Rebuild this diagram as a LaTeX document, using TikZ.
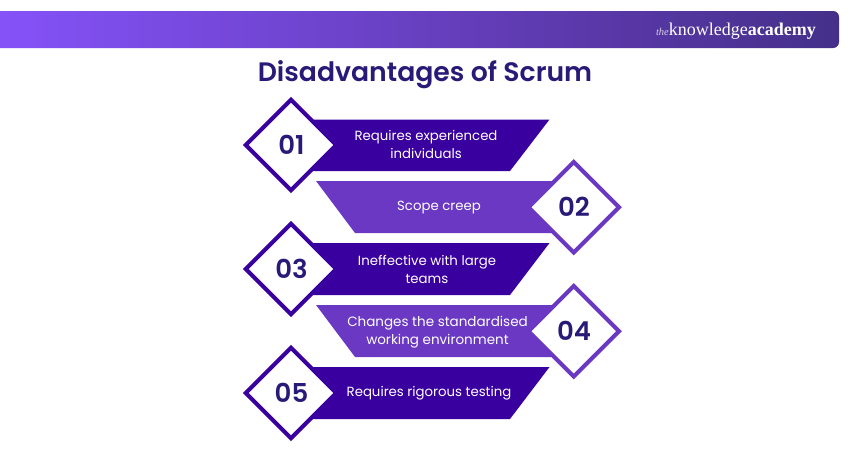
\documentclass[tikz,border=0pt]{standalone}
\usepackage{fontspec}
\setmainfont{Poppins}
\newfontfamily\popsemi{Poppins SemiBold}
\newfontfamily\logofont{Liberation Serif}
\definecolor{barA}{HTML}{3A009F}
\definecolor{barB}{HTML}{6A38C2}
\definecolor{inkc}{HTML}{2A1A78}
\definecolor{bannerL}{HTML}{8552F8}
\definecolor{bannerM}{HTML}{5A38A8}
\definecolor{bannerR}{HTML}{44308A}
\newcommand{\popfont}{\fontsize{13.3}{18}\selectfont}
\newcommand{\numfont}{\popsemi\fontsize{26}{30}\selectfont}
\tikzset{
  x=1pt,y=-1pt,
  bartext/.style={text=white,font=\popfont,align=center,inner sep=0pt},
  numtext/.style={text=inkc,font=\numfont,inner sep=0pt},
  diam/.style={fill=white,line width=4.2pt,line join=miter},
}
\begin{document}
\begin{tikzpicture}
\useasboundingbox (0,0) rectangle (850,450);
\fill[white] (0,0) rectangle (850,450);
% banner
\begin{scope}
\clip (0,11) -- (833,11) arc[start angle=90,end angle=0,x radius=6,y radius=-6] -- (839,42) arc[start angle=0,end angle=-90,x radius=6,y radius=-6] -- (0,48) -- cycle;
\shade[left color=bannerL,right color=bannerM] (0,11) rectangle (600,48);
\shade[left color=bannerM,right color=bannerR] (600,11) rectangle (839,48);
\end{scope}
\node[anchor=base east,inner sep=0pt,text=white,font=\logofont\fontsize{18}{20}\selectfont] (logo) at (816,35.5)
  {{\fontsize{10.5}{12}\selectfont\itshape\color{white!75!bannerM}the}knowledge\textbf{academy}};
\node[anchor=base,inner sep=0pt,text=inkc,font=\popsemi\fontsize{26.7}{30}\selectfont] (title) at (425,81) {Disadvantages of Scrum};
% row 1
\fill[barA] (300,119.5) -- (549.5,119.5) -- (510,171) -- (300,171) -- cycle;
\draw[diam,draw=barA] (291,99.75) -- (336.25,145) -- (291,190.25) -- (245.75,145) -- cycle;
\node[numtext] (n1) at (291.5,145) {01};
\node[bartext] (t1) at (426,144.5) {Requires experienced\\individuals};
% row 2
\fill[barB] (316,181) -- (560,181) -- (560,233) -- (355,233) -- cycle;
\draw[diam,draw=barB] (573.75,162) -- (619,207.25) -- (573.75,252.5) -- (528.5,207.25) -- cycle;
\node[numtext] (n2) at (574,207) {02};
\node[bartext] (t2) at (439,207.5) {Scope creep};
% row 3
\fill[barA] (300,243) -- (549.5,243) -- (510,295) -- (300,295) -- cycle;
\draw[diam,draw=barA] (291,223.75) -- (336.25,269) -- (291,314.25) -- (245.75,269) -- cycle;
\node[numtext] (n3) at (291.5,269) {03};
\node[bartext] (t3) at (427,269) {Ineffective with large\\teams};
% row 4
\fill[barB] (316,305) -- (560,305) -- (560,357) -- (355,357) -- cycle;
\draw[diam,draw=barB] (573.75,286) -- (619,331.25) -- (573.75,376.5) -- (528.5,331.25) -- cycle;
\node[numtext] (n4) at (574,331) {04};
\node[bartext,font=\fontsize{13.5}{18}\selectfont] (t4) at (437.5,332) {Changes the standardised\\working environment};
% row 5
\fill[barA] (300,367) -- (549.5,367) -- (510,419) -- (300,419) -- cycle;
\draw[diam,draw=barA] (291,347.75) -- (336.25,393) -- (291,438.25) -- (245.75,393) -- cycle;
\node[numtext] (n5) at (291.5,393) {05};
\node[bartext] (t5) at (429,393) {Requires rigorous testing};
\end{tikzpicture}
\end{document}
